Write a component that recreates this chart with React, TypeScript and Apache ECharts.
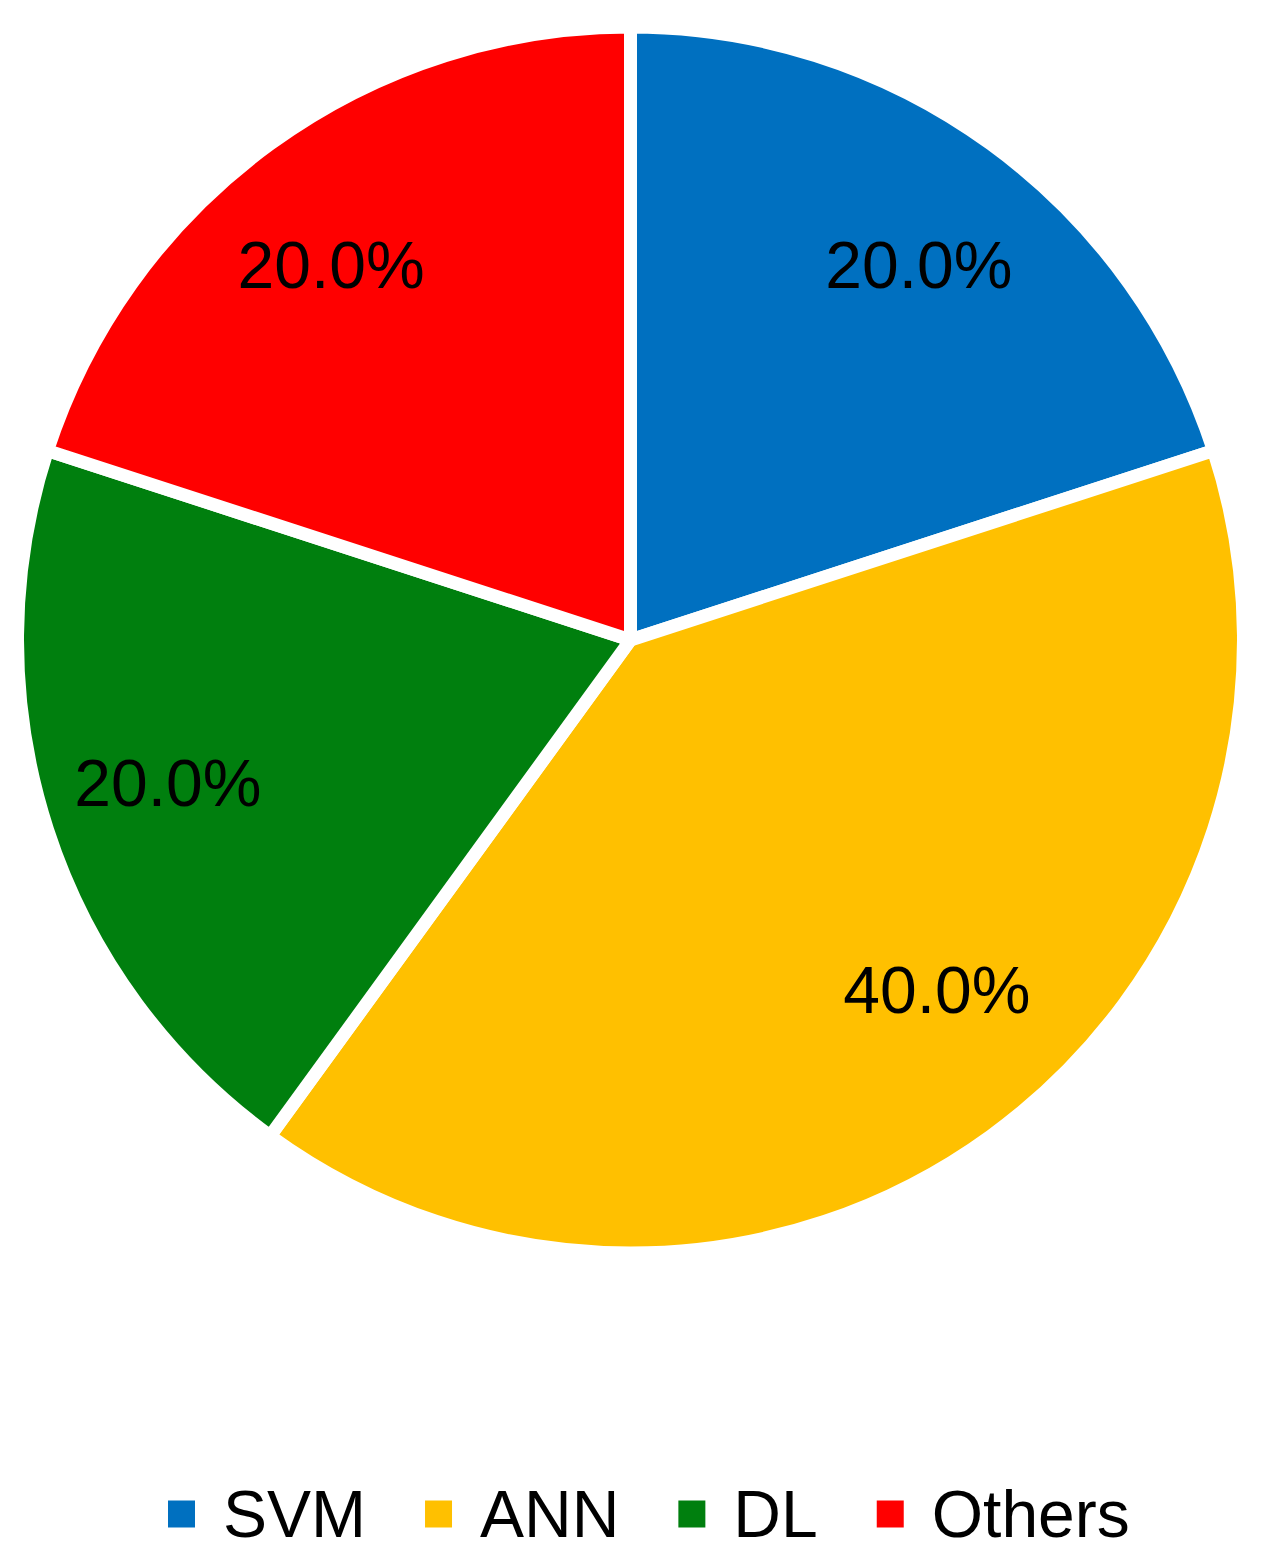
import React, { useEffect, useRef } from "react";
import * as echarts from "echarts";

const categories = ["SVM", "ANN", "DL", "Others"];
const values = [20, 40, 20, 20];
const colors = ["#0070C0", "#FFC000", "#007F0E", "#FF0000"];
// label nudges (style only), in px
const labelNudges = [
  [8, 11],
  [26, -36],
  [-9, -4],
  [-19, 11],
];

export default function App() {
  const ref = useRef<HTMLDivElement>(null);
  useEffect(() => {
    if (!ref.current) return;
    const chart = echarts.init(ref.current, null, { renderer: "svg" });
    const data = categories.map((name, i) => ({
      name,
      value: values[i],
      itemStyle: { color: colors[i] },
    }));
    chart.setOption({
      animation: false,
      backgroundColor: "#ffffff",
      textStyle: { fontFamily: "Liberation Sans" },
      legend: {
        data: categories,
        top: 1476,
        left: 161,
        itemWidth: 29,
        itemHeight: 29,
        itemGap: 57,
        icon: "rect",
        textStyle: {
          fontSize: 66,
          color: "#000",
          fontFamily: "Liberation Sans",
          padding: [0, 0, 0, 22],
        },
      },
      series: [
        {
          type: "pie",
          center: [630.5, 640],
          radius: [0, 613],
          startAngle: 90,
          clockwise: true,
          data,
          label: { show: false },
          labelLine: { show: false },
          itemStyle: { borderColor: "#ffffff", borderWidth: 13 },
          emphasis: { disabled: true },
        },
        {
          type: "pie",
          center: [630.5, 640],
          radius: [335, 613],
          startAngle: 90,
          clockwise: true,
          silent: true,
          data: categories.map((name, i) => ({
            name,
            value: values[i],
            label: { offset: labelNudges[i] },
          })),
          itemStyle: { color: "rgba(0,0,0,0)" },
          label: {
            show: true,
            position: "inside",
            formatter: (p: any) => p.percent.toFixed(1) + "%",
            fontSize: 66,
            color: "#000",
            fontFamily: "Liberation Sans",
          },
          labelLine: { show: false },
          emphasis: { disabled: true },
        },
      ],
    });
    return () => chart.dispose();
  }, []);
  return (
    <div
      ref={ref}
      style={{ position: "absolute", left: 0, top: 0, width: 1262, height: 1564 }}
    />
  );
}
